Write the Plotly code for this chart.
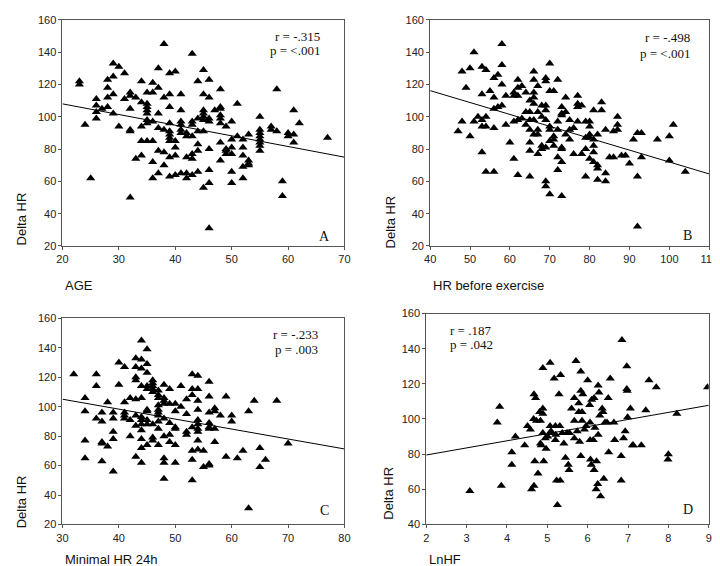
import plotly.graph_objects as go

W, H = 720, 566

# ---------------- Data ----------------
# Panel A: AGE vs Delta HR
A_age = [23, 24, 25, 26, 27, 28, 29, 30, 31, 32, 33, 34, 35, 36, 37, 38, 39, 40, 41, 42,
         43, 44, 45, 46, 47, 48, 49, 50, 51, 52, 53, 55, 57, 58, 59, 60, 61, 62, 67]
A_dhr = [[122, 120], [95], [62], [111, 107, 103, 99], [105], [123, 118, 112, 106],
         [133, 125, 114, 102], [131, 94], [127, 111], [115, 113, 105, 92, 91, 50], [112, 74],
         [122, 109, 94, 85, 76], [115, 108, 106, 104, 102, 98, 96, 85], [121, 115, 97, 85, 72, 62],
         [130, 118, 102, 93, 79, 65], [145, 112, 92, 78, 70],
         [127, 114, 106, 96, 91, 89, 87, 85, 75, 63], [128, 85, 81, 76, 64],
         [114, 104, 97, 95, 92, 90, 65], [90, 88, 75, 65, 62], [139, 97, 95, 88, 77, 74, 64],
         [122, 99, 91, 83, 79, 66], [129, 114, 104, 102, 100, 98, 91, 56],
         [123, 112, 99, 97, 80, 67, 59, 31], [104], [117, 106, 105, 101, 99, 96, 84, 73],
         [94, 80, 79, 77], [97, 86, 81, 77, 66, 59], [108, 88], [86, 81, 76, 69, 62],
         [89, 73, 71, 70], [100, 92, 90, 88, 86, 84, 82, 79], [94, 92], [117, 91], [60, 51],
         [90, 88], [104, 89, 84], [96], [87]]
A_fit = {"intercept_at_min": 108.0, "slope": -0.66}

# Panel B: HR before exercise vs Delta HR
B_hr = [47, 48, 49, 50, 51, 52, 53, 54, 55, 56, 57, 58, 59, 60, 61, 62, 63, 64, 65, 66, 67, 68,
        69, 70, 71, 72, 73, 74, 75, 76, 77, 78, 79, 80, 81, 82, 83, 84, 85, 86, 87, 88, 89, 90,
        91, 92, 93, 97, 100, 101, 104]
B_dhr = [[91], [128, 97], [118], [130, 88], [140, 97], [100], [131, 114, 98, 94, 78],
         [129, 100, 94, 66], [116], [124, 112, 105, 93, 66], [126, 106], [145, 132, 120, 107],
         [113, 95], [84], [115, 113, 97, 74], [123, 118, 113, 98, 64], [119, 99], [115, 103, 95],
         [110, 103, 98, 92, 84, 79, 63], [128, 123, 115, 112, 108, 98, 89],
         [119, 103, 92, 89, 77], [107, 100, 82, 80], [124, 122, 107, 104, 98, 81, 60, 57],
         [133, 116, 94, 92, 85, 52], [116, 88, 86, 82], [123, 97, 92, 75, 67],
         [106, 102, 101, 81, 80, 72, 51], [112, 103, 89], [98, 92, 86], [93, 77],
         [113, 108, 106, 97], [107, 77], [97, 87, 80, 63], [97, 94, 89, 87, 74],
         [104, 86, 82, 78, 72], [89, 70, 68, 61], [109, 104], [92, 65, 60], [75], [91, 75],
         [100, 95, 92], [76], [76], [71], [86], [90, 63, 32], [90, 75], [86], [88, 73], [95], [66]]
B_fit = {"intercept_at_min": 116.2, "slope": -0.737}

# Panel C: Minimal HR 24h vs Delta HR
C_minhr = [32, 34, 36, 37, 38, 39, 40, 41, 42, 43, 44, 45, 46, 47, 48, 49, 50, 51, 52, 53, 54,
           55, 56, 57, 58, 59, 60, 61, 62, 63, 64, 65, 66, 68, 70]
C_dhr = [[122], [106, 97, 77, 65], [122, 114, 92], [96, 90, 76, 75, 63], [103, 73],
         [96, 92, 83, 78, 56], [130, 115], [127, 103, 96, 94, 92], [106, 91, 80],
         [133, 127, 120, 118, 105, 94, 87, 66],
         [145, 132, 126, 114, 106, 93, 91, 88, 84, 78, 72, 62],
         [139, 129, 123, 114, 112, 98, 97, 91, 88, 74], [118, 116, 114, 112, 110, 88, 79, 77],
         [111, 108, 106, 101, 98, 96, 94, 90, 85, 74], [115, 106, 104, 102, 92, 80, 65, 62, 51],
         [112, 102, 89, 81, 76], [102, 97, 86, 85, 74, 62], [114, 100], [105, 95, 83, 81],
         [122, 112, 108, 86, 70, 64, 50], [121, 112, 104, 98, 91, 88, 85, 83, 77, 71], [70, 59],
         [117, 107, 96, 89, 86, 85, 61, 60], [99, 97, 85, 76], [94], [107, 66], [94, 90], [65],
         [70], [97, 31], [104], [72, 59], [64], [104], [75]]
C_fit = {"intercept_at_min": 105.1, "slope": -0.676}

# Panel D: LnHF vs Delta HR
D_lnhf = [3.08, 3.76, 3.82, 3.86, 4.12, 4.12, 4.21, 4.44, 4.51, 4.58, 4.61, 4.67, 4.67, 4.69,
          4.71, 4.66, 4.73, 4.77, 4.81, 4.83, 4.83, 4.85, 4.89, 4.89, 4.89, 4.89, 4.91, 4.95,
          4.97, 5.01, 5.07, 5.07, 5.09, 5.12, 5.17, 5.20, 5.20, 5.21, 5.23, 5.25, 5.31, 5.32,
          5.33, 5.29, 5.37, 5.41, 5.45, 5.49, 5.52, 5.54, 5.55, 5.60, 5.67, 5.67, 5.67, 5.71,
          5.74, 5.78, 5.78, 5.80, 5.83, 5.83, 5.83, 5.86, 5.86, 5.88, 5.92, 5.96, 6.00, 6.05,
          6.06, 6.06, 6.07, 6.09, 6.10, 6.16, 6.14, 6.16, 6.18, 6.21, 6.22, 6.26, 6.26, 6.25,
          6.28, 6.30, 6.32, 6.36, 6.38, 6.40, 6.43, 6.48, 6.51, 6.52, 6.56, 6.65, 6.67, 6.83,
          6.83, 6.85, 6.89, 6.93, 6.97, 6.97, 6.98, 6.99, 7.06, 7.11, 7.13, 7.33, 7.44, 7.52,
          7.70, 7.99, 8.00, 8.21, 8.97]
D_dhr = [59, 98, 107, 62, 81, 74, 90, 85, 96, 94, 60, 62, 114, 76,
         112, 100, 99, 69, 104, 99, 86, 85, 103, 106, 129, 92, 76, 89,
         83, 90, 132, 96, 93, 92, 123, 96, 88, 91, 65, 51, 96, 65,
         125, 114, 92, 86, 78, 92, 74, 71, 92, 106, 112, 99, 89, 133,
         93, 109, 104, 87, 127, 116, 79, 104, 99, 114, 94, 96, 122, 108,
         98, 88, 77, 74, 111, 112, 88, 71, 95, 60, 76, 119, 91, 63,
         115, 102, 56, 106, 104, 66, 98, 98, 112, 81, 123, 98, 88, 79,
         65, 145, 89, 93, 130, 117, 116, 101, 106, 85, 85, 85, 105, 122,
         118, 77, 80, 103, 118]
D_fit = {"intercept_at_min": 79.5, "slope": 4.04}

x_titles = ["AGE", "HR before exercise", "Minimal HR 24h", "LnHF"]
stats_r = ["r = -.315", "r = -.498", "r = -.233", "r = .187"]
stats_p = ["p = <.001", "p = <.001", "p = .003", "p = .042"]
panel_letters = ["A", "B", "C", "D"]
x_ranges = [[20, 70], [40, 110], [30, 80], [2, 9]]
x_dticks = [10, 10, 10, 1]
y_ranges = [[20, 160], [20, 160], [20, 160], [40, 160]]


def expand(xs, groups):
    ox, oy = [], []
    for xv, g in zip(xs, groups):
        for yv in g:
            ox.append(xv)
            oy.append(yv)
    return ox, oy


ax_, ay_ = expand(A_age, A_dhr)
bx_, by_ = expand(B_hr, B_dhr)
cx_, cy_ = expand(C_minhr, C_dhr)
panels_xy = [(ax_, ay_), (bx_, by_), (cx_, cy_), (D_lnhf, D_dhr)]
fits = [A_fit, B_fit, C_fit, D_fit]

# ---------------- Layout (pixel boxes of plot areas) ----------------
boxes = [  # left, right, top, bottom in pixels
    (49.5, 337.5, 6.0, 237.0),
    (425.0, 710.0, 6.0, 237.0),
    (49.5, 337.5, 311.0, 521.5),
    (421.0, 709.5, 306.0, 521.5),
]


def px(x):
    return x / W


def py(y):
    return 1 - y / H


fig = go.Figure()
layout = dict(
    width=W, height=H, margin=dict(l=0, r=0, t=0, b=0),
    paper_bgcolor="white", plot_bgcolor="white", showlegend=False,
    font=dict(family="Liberation Sans, Arial", size=11, color="#222"),
)

annotations = []
for i in range(4):
    xs, ys = panels_xy[i]
    xa = "x" if i == 0 else f"x{i+1}"
    ya = "y" if i == 0 else f"y{i+1}"
    fig.add_trace(go.Scatter(
        x=xs, y=ys, mode="markers", xaxis=xa, yaxis=ya,
        marker=dict(symbol="triangle-up", size=8, color="black", line=dict(width=0)),
        hoverinfo="skip"))
    x0, x1 = x_ranges[i]
    f = fits[i]
    fig.add_trace(go.Scatter(
        x=[x0, x1],
        y=[f["intercept_at_min"], f["intercept_at_min"] + f["slope"] * (x1 - x0)],
        mode="lines", xaxis=xa, yaxis=ya, line=dict(color="black", width=1),
        hoverinfo="skip"))
    l, r, t, b = boxes[i]
    axis_common = dict(
        showgrid=False, zeroline=False, showline=True, mirror=True,
        linecolor="#555", linewidth=1, ticks="outside", ticklen=3, tickcolor="#555",
        tickfont=dict(family="Liberation Sans, Arial", size=11, color="#222"),
    )
    layout["xaxis" if i == 0 else f"xaxis{i+1}"] = dict(
        axis_common, domain=[px(l), px(r)], range=x_ranges[i], dtick=x_dticks[i],
        tick0=x_ranges[i][0], anchor=ya)
    layout["yaxis" if i == 0 else f"yaxis{i+1}"] = dict(
        axis_common, domain=[py(b), py(t)], range=y_ranges[i], dtick=20,
        tick0=y_ranges[i][0], anchor=xa)

    # axis titles
    annotations.append(dict(
        text=x_titles[i], xref="paper", yref="paper",
        x=px(l + 0.5), y=py(277 if i < 2 else 557), xanchor="left", yanchor="middle",
        showarrow=False, font=dict(family="Liberation Sans, Arial", size=13, color="#111")))
    ycen = [209, 212, 498, 490][i]
    xlab = [8, 385, 8, 383][i]
    annotations.append(dict(
        text="Delta HR", xref="paper", yref="paper", textangle=-90,
        x=px(xlab), y=py(ycen), xanchor="center", yanchor="middle",
        showarrow=False, font=dict(family="Liberation Sans, Arial", size=13, color="#111")))

    serif = dict(family="Liberation Serif, Times New Roman", size=13, color="#111")
    if i < 3:
        rx = [315, 692, 313][i]
        ry = [23, 24, 327][i]
        pyy = [37, 40, 343][i]
        annotations.append(dict(text=stats_r[i], xref="paper", yref="paper", x=px(rx), y=py(ry),
                                xanchor="right", yanchor="middle", showarrow=False, font=serif))
        annotations.append(dict(text=stats_p[i], xref="paper", yref="paper", x=px(rx), y=py(pyy),
                                xanchor="right", yanchor="middle", showarrow=False, font=serif))
    else:
        annotations.append(dict(text=stats_r[i], xref="paper", yref="paper", x=px(443), y=py(323),
                                xanchor="left", yanchor="middle", showarrow=False, font=serif))
        annotations.append(dict(text=stats_p[i], xref="paper", yref="paper", x=px(443), y=py(338),
                                xanchor="left", yanchor="middle", showarrow=False, font=serif))
    lx = [317, 688, 317, 688][i]
    ly = [227, 226, 507, 506][i]
    annotations.append(dict(text=panel_letters[i], xref="paper", yref="paper", x=px(lx), y=py(ly),
                            xanchor="center", yanchor="middle", showarrow=False,
                            font=dict(family="Liberation Serif, Times New Roman", size=14, color="#111")))

layout["annotations"] = annotations
fig.update_layout(**layout)
fig.write_html("out.html")
